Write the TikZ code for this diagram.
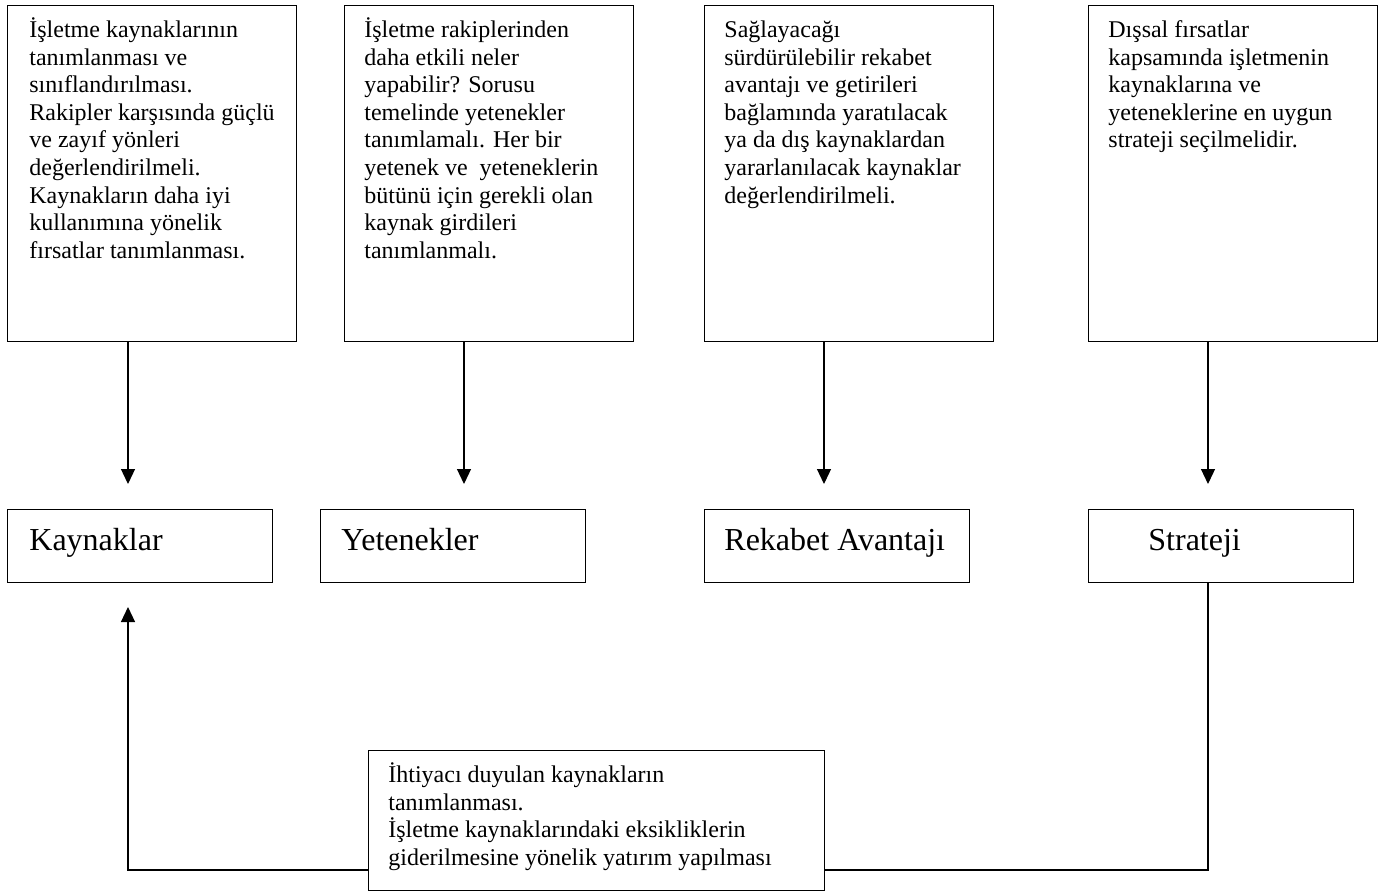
\documentclass[tikz,border=0pt]{standalone}
\usepackage{fontspec}
\setmainfont{Liberation Serif}
\usetikzlibrary{arrows.meta}
\begin{document}
\begin{tikzpicture}[x=0.5pt,y=-0.5pt,
  box/.style={draw=black, line width=0.6pt, inner sep=0pt, anchor=north west},
  topbox/.style={box, minimum width=144.5pt, minimum height=168pt},
  midbox/.style={box, minimum width=132.5pt, minimum height=36.5pt},
  note/.style={anchor=north west, inner sep=0pt, align=left,
    font=\fontsize{12pt}{13.8pt}\selectfont},
  title/.style={anchor=base west, inner sep=0pt,
    font=\fontsize{16pt}{18.4pt}\selectfont},
  link/.style={line width=0.6pt, -{Triangle[length=7.5pt,width=7pt]}},
  plain/.style={line width=0.6pt}]
\useasboundingbox (0,0) rectangle (1381,891);

% upper description boxes
\node[topbox] (t1) at (7,5) {};
\node[topbox] (t2) at (344,5) {};
\node[topbox] (t3) at (704,5) {};
\node[topbox] (t4) at (1088,5) {};

\newcommand{\fl}{\rule{0pt}{11.5pt}}
\node[note] (t1x) at (29,14) {\fl İşletme kaynaklarının\\tanımlanması ve\\sınıflandırılması.\\Rakipler karşısında güçlü\\ve zayıf yönleri\\değerlendirilmeli.\\Kaynakların daha iyi\\kullanımına yönelik\\fırsatlar tanımlanması.};
\node[note] (t2x) at (364,14) {\fl İşletme rakiplerinden\\daha etkili neler\\yapabilir? Sorusu\\temelinde yetenekler\\tanımlamalı. Her bir\\yetenek ve~ yeteneklerin\\bütünü için gerekli olan\\kaynak girdileri\\tanımlanmalı.};
\node[note] (t3x) at (724,14) {\fl Sağlayacağı\\sürdürülebilir rekabet\\avantajı ve getirileri\\bağlamında yaratılacak\\ya da dış kaynaklardan\\yararlanılacak kaynaklar\\değerlendirilmeli.};
\node[note] (t4x) at (1108,14) {\fl Dışsal fırsatlar\\kapsamında işletmenin\\kaynaklarına ve\\yeteneklerine en uygun\\strateji seçilmelidir.};

% concept boxes
\node[midbox] (s1) at (7,509) {};
\node[midbox] (s2) at (320,509) {};
\node[midbox] (s3) at (704,509) {};
\node[midbox] (s4) at (1088,509) {};
\node[title] (s1x) at (29,550) {Kaynaklar};
\node[title] (s2x) at (341,550) {Yetenekler};
\node[title] (s3x) at (724,550) {Rekabet Avantajı};
\node[title] (s4x) at (1148,550) {Strateji};

% downward arrows
\coordinate (a1) at (128,484);
\coordinate (a2) at (464,484);
\coordinate (a3) at (824,484);
\coordinate (a4) at (1208,484);
\draw[link] (a1 |- t1.south) -- (a1);
\draw[link] (a2 |- t2.south) -- (a2);
\draw[link] (a3 |- t3.south) -- (a3);
\draw[link] (a4 |- t4.south) -- (a4);

% feedback box
\node[box, minimum width=228pt, minimum height=70pt] (n) at (368,750) {};
\node[note] (nx) at (388,759) {\fl İhtiyacı duyulan kaynakların\\tanımlanması.\\İşletme kaynaklarındaki eksikliklerin\\giderilmesine yönelik yatırım yapılması};

\coordinate (up) at (128,607);
\coordinate (lk) at (128,870);
\coordinate (rk) at (1208,870);
\draw[link] (n.west |- lk) -- (lk) -- (up);
\draw[plain] (n.east |- rk) -- (rk) -- (rk |- s4.south);
\end{tikzpicture}
\end{document}
